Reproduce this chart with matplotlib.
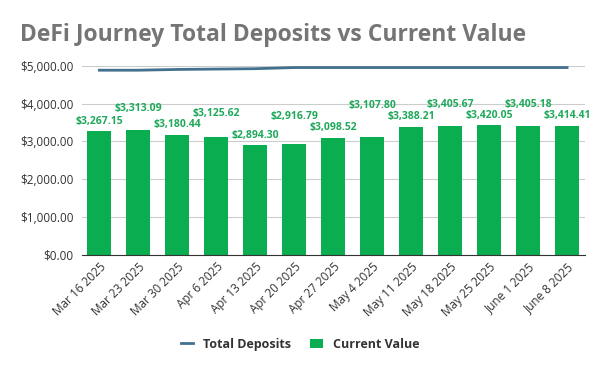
import matplotlib.pyplot as plt
from matplotlib.ticker import FuncFormatter

# chart data
weeks = ["Mar 16 2025", "Mar 23 2025", "Mar 30 2025", "Apr 6 2025", "Apr 13 2025",
         "Apr 20 2025", "Apr 27 2025", "May 4 2025", "May 11 2025", "May 18 2025",
         "May 25 2025", "June 1 2025", "June 8 2025"]
total_deposits = [4880, 4880, 4900, 4910, 4920, 4950, 4950, 4950, 4950, 4950, 4950, 4950, 4950]
current_value = [3267.15, 3313.09, 3180.44, 3125.62, 2894.30, 2916.79, 3098.52, 3107.80,
                 3388.21, 3405.67, 3420.05, 3405.18, 3414.41]

bar_color = "#0aad4f"
line_color = "#44708f"

plt.rcParams["font.family"] = ["Open Sans", "DejaVu Sans"]

fig = plt.figure(figsize=(6, 3.71), dpi=100)
ax = fig.add_axes([0.137, 0.313, 0.838, 0.51])

x = range(len(weeks))
ax.plot(x, total_deposits, color=line_color, linewidth=2, zorder=3, label="Total Deposits")
ax.bar(x, current_value, width=0.62, color=bar_color, zorder=2, label="Current Value")

# labels alternate height so neighbours don't collide
n = len(current_value)
for i, v in enumerate(current_value):
    if i % 2 == 0:
        y = v + 260
    else:
        y = max(current_value[max(i - 1, 0):min(i + 2, n)]) + 560
    ax.text(i, y, "${:,.2f}".format(v), ha="center", va="center",
            fontsize=7.5, color="#1fa85a", fontweight="bold", zorder=4)

ax.set_ylim(0, 5000)
ax.set_xlim(-0.44, len(weeks) - 0.54)
ax.set_yticks([0, 1000, 2000, 3000, 4000, 5000])
ax.yaxis.set_major_formatter(FuncFormatter(lambda v, p: "${:,.2f}".format(v)))
ax.set_xticks(list(x))
ax.set_xticklabels(weeks, rotation=45, ha="right", rotation_mode="anchor", fontsize=8.5, color="#333333")
ax.tick_params(axis="y", labelsize=8.5, labelcolor="#333333", length=0, pad=6)
ax.tick_params(axis="x", length=0, pad=4)
ax.grid(axis="y", color="#cccccc", linewidth=0.8, zorder=0)
for s in ["top", "right", "left"]:
    ax.spines[s].set_visible(False)
ax.spines["bottom"].set_color("#333333")

fig.text(0.033, 0.905, "DeFi Journey Total Deposits vs Current Value", fontsize=16.5,
         fontweight="bold", color="#757575", ha="left", va="center")

fig.legend(loc="center", bbox_to_anchor=(0.5, 0.072), ncol=2, frameon=False,
           prop={"size": 9, "weight": "bold"}, labelcolor="#333333", handlelength=1.0,
           columnspacing=1.5, handletextpad=0.8)

fig.savefig("out.png", dpi=100)
